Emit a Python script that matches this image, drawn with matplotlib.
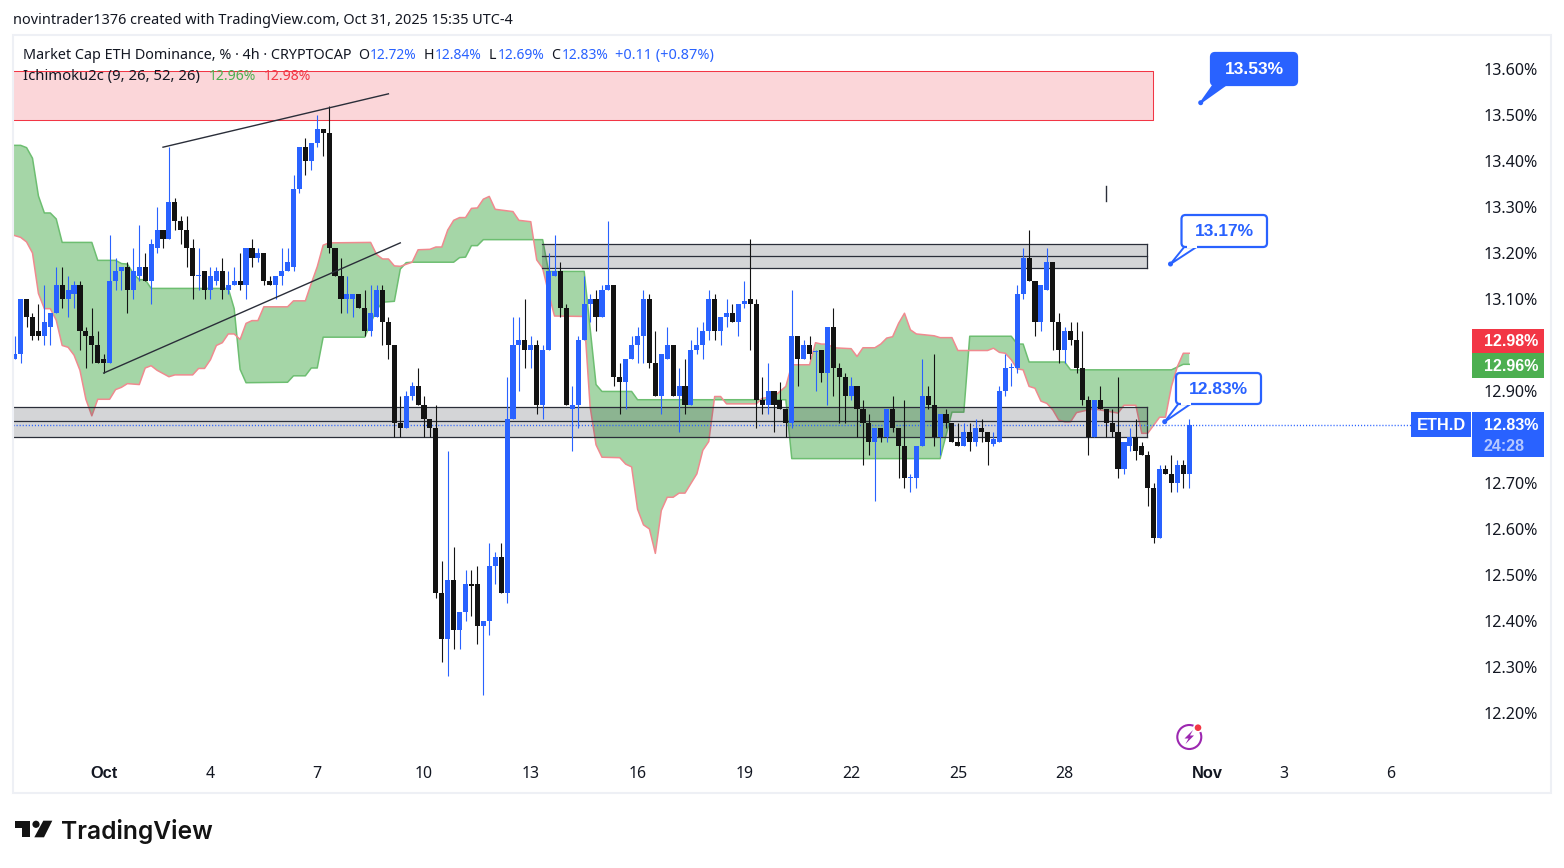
# -*- coding: utf-8 -*-
"""
ETH.D 4h chart with ichimoku cloud, zones and callouts
"""

import numpy as np
import matplotlib
matplotlib.use('Agg')
import matplotlib.pyplot as plt
from matplotlib.patches import Rectangle, FancyBboxPatch, Polygon, Circle

plt.rcParams['font.family'] = ['Noto Sans', 'DejaVu Sans']

# candles, 4h, index 15 = Oct 1
opens = [12.97, 12.98, 13.10, 13.06, 13.03, 13.02, 13.04, 13.07, 13.13, 13.10,
         13.11, 13.13, 13.03, 13.02, 13.00, 12.97, 12.96, 13.14, 13.16, 13.17,
         13.12, 13.15, 13.17, 13.14, 13.21, 13.25, 13.23, 13.31, 13.27, 13.25,
         13.21, 13.15, 13.16, 13.12, 13.14, 13.16, 13.12, 13.13, 13.14, 13.13,
         13.21, 13.19, 13.20, 13.14, 13.13, 13.15, 13.16, 13.17, 13.34, 13.43,
         13.40, 13.44, 13.47, 13.46, 13.21, 13.15, 13.10, 13.10, 13.11, 13.08,
         13.03, 13.06, 13.12, 13.05, 13.00, 12.83, 12.82, 12.89, 12.91, 12.87,
         12.84, 12.82, 12.46, 12.36, 12.49, 12.38, 12.42, 12.48, 12.48, 12.39,
         12.40, 12.52, 12.54, 12.46, 12.84, 13.00, 13.01, 12.99, 13.00, 12.87,
         12.99, 13.15, 13.16, 13.08, 12.86, 12.87, 13.01, 13.09, 13.10, 13.06,
         13.12, 13.13, 12.93, 12.92, 12.97, 13.00, 13.02, 13.10, 12.96, 12.89,
         12.97, 13.00, 12.89, 12.91, 12.87, 12.99, 13.00, 13.03, 13.10, 13.03,
         13.06, 13.07, 13.05, 13.09, 13.10, 13.09, 12.88, 12.87, 12.90, 12.88,
         12.86, 12.83, 13.02, 12.97, 13.00, 12.985, 12.99, 12.94, 13.04, 12.95,
         12.93, 12.89, 12.91, 12.86, 12.83, 12.79, 12.82, 12.80, 12.86, 12.82,
         12.78, 12.71, 12.71, 12.78, 12.89, 12.87, 12.80, 12.85, 12.83, 12.79,
         12.78, 12.81, 12.79, 12.82, 12.81, 12.785, 12.79, 12.90, 12.95, 12.95,
         13.11, 13.19, 13.14, 13.05, 13.12, 13.18, 13.05, 12.99, 13.03, 13.01,
         12.95, 12.88, 12.80, 12.88, 12.86, 12.83, 12.81, 12.73, 12.78, 12.80,
         12.78, 12.76, 12.69, 12.58, 12.73, 12.72, 12.70, 12.74, 12.72]
closes = [12.98, 13.10, 13.06, 13.02, 13.02, 13.05, 13.07, 13.13, 13.10, 13.12,
          13.13, 13.03, 13.02, 13.00, 12.96, 12.96, 13.14, 13.16, 13.17, 13.12,
          13.16, 13.17, 13.14, 13.22, 13.25, 13.23, 13.31, 13.27, 13.25, 13.21,
          13.15, 13.15, 13.12, 13.15, 13.16, 13.12, 13.13, 13.14, 13.13, 13.21,
          13.19, 13.20, 13.14, 13.13, 13.15, 13.16, 13.18, 13.34, 13.43, 13.40,
          13.44, 13.47, 13.46, 13.21, 13.15, 13.10, 13.11, 13.11, 13.08, 13.03,
          13.07, 13.12, 13.05, 13.00, 12.83, 12.82, 12.89, 12.91, 12.87, 12.84,
          12.82, 12.46, 12.36, 12.49, 12.38, 12.42, 12.48, 12.475, 12.39, 12.40,
          12.52, 12.54, 12.46, 12.84, 13.00, 13.01, 12.99, 13.00, 12.87, 12.99,
          13.16, 13.16, 13.08, 12.87, 12.87, 13.01, 13.09, 13.10, 13.06, 13.12,
          13.13, 12.93, 12.92, 12.97, 13.00, 13.02, 13.10, 12.96, 12.89, 12.98,
          13.00, 12.89, 12.91, 12.87, 12.99, 13.00, 13.03, 13.10, 13.03, 13.06,
          13.07, 13.05, 13.09, 13.095, 13.09, 12.88, 12.87, 12.90, 12.87, 12.86,
          12.83, 13.02, 12.97, 13.00, 12.98, 12.985, 12.94, 13.04, 12.95, 12.93,
          12.89, 12.91, 12.86, 12.83, 12.79, 12.82, 12.80, 12.86, 12.82, 12.78,
          12.71, 12.71, 12.78, 12.89, 12.87, 12.80, 12.85, 12.83, 12.79, 12.78,
          12.81, 12.79, 12.82, 12.81, 12.79, 12.795, 12.90, 12.95, 12.95, 13.11,
          13.19, 13.14, 13.05, 13.13, 13.18, 13.05, 12.99, 13.03, 13.01, 12.95,
          12.88, 12.80, 12.88, 12.86, 12.83, 12.81, 12.73, 12.79, 12.80, 12.77,
          12.76, 12.69, 12.58, 12.73, 12.72, 12.70, 12.74, 12.72, 12.827]
highs = [13.02, 13.10, 13.10, 13.07, 13.09, 13.13, 13.07, 13.17, 13.17, 13.15,
         13.14, 13.14, 13.04, 13.08, 13.03, 12.98, 13.24, 13.19, 13.17, 13.18,
         13.21, 13.26, 13.20, 13.23, 13.30, 13.25, 13.43, 13.32, 13.28, 13.28,
         13.23, 13.21, 13.16, 13.17, 13.17, 13.19, 13.16, 13.17, 13.20, 13.21,
         13.23, 13.21, 13.20, 13.15, 13.15, 13.21, 13.21, 13.37, 13.43, 13.45,
         13.44, 13.50, 13.47, 13.52, 13.21, 13.19, 13.15, 13.11, 13.11, 13.12,
         13.13, 13.13, 13.13, 13.06, 13.00, 12.89, 12.90, 12.92, 12.95, 12.89,
         12.84, 12.87, 12.53, 12.77, 12.56, 12.42, 12.51, 12.51, 12.52, 12.40,
         12.57, 12.55, 12.57, 12.93, 13.06, 13.06, 13.10, 13.02, 13.01, 13.00,
         13.20, 13.24, 13.18, 13.09, 12.91, 13.02, 13.15, 13.11, 13.12, 13.13,
         13.27, 13.13, 12.96, 12.97, 13.02, 13.04, 13.12, 13.11, 13.03, 12.98,
         13.04, 13.00, 12.95, 12.97, 13.01, 13.04, 13.05, 13.12, 13.11, 13.06,
         13.10, 13.09, 13.09, 13.14, 13.23, 13.10, 12.93, 12.96, 12.90, 12.92,
         12.86, 13.12, 13.02, 13.01, 13.02, 12.99, 12.99, 13.04, 13.08, 12.96,
         12.94, 12.93, 12.91, 12.88, 12.85, 12.82, 12.82, 12.86, 12.89, 12.82,
         12.88, 12.72, 12.78, 12.97, 12.91, 12.98, 12.85, 12.86, 12.83, 12.83,
         12.83, 12.83, 12.84, 12.84, 12.81, 12.81, 12.91, 12.98, 12.96, 13.13,
         13.21, 13.25, 13.14, 13.13, 13.21, 13.18, 13.07, 13.04, 13.05, 13.05,
         13.03, 12.89, 12.88, 12.91, 12.86, 12.86, 12.93, 12.79, 12.82, 12.84,
         12.79, 12.77, 12.70, 12.74, 12.74, 12.76, 12.75, 12.75, 12.84]
lows = [12.97, 12.96, 13.04, 13.01, 13.01, 13.00, 13.00, 13.07, 13.08, 13.06,
        13.08, 12.99, 12.95, 12.96, 12.96, 12.94, 12.96, 13.12, 13.12, 13.07,
        13.10, 13.14, 13.14, 13.09, 13.20, 13.21, 13.23, 13.25, 13.22, 13.17,
        13.10, 13.12, 13.10, 13.10, 13.13, 13.10, 13.11, 13.13, 13.12, 13.10,
        13.17, 13.18, 13.13, 13.13, 13.10, 13.13, 13.16, 13.16, 13.33, 13.37,
        13.38, 13.43, 13.41, 13.20, 13.15, 13.07, 13.07, 13.06, 13.08, 13.02,
        13.02, 13.06, 13.00, 12.97, 12.80, 12.80, 12.82, 12.88, 12.87, 12.80,
        12.80, 12.45, 12.31, 12.28, 12.34, 12.34, 12.40, 12.41, 12.35, 12.24,
        12.37, 12.48, 12.46, 12.44, 12.84, 12.90, 12.95, 12.95, 12.85, 12.84,
        12.99, 13.15, 13.06, 12.87, 12.77, 12.82, 13.01, 13.05, 13.03, 13.06,
        13.12, 12.91, 12.85, 12.86, 12.97, 12.96, 12.96, 12.95, 12.89, 12.85,
        12.97, 12.89, 12.81, 12.85, 12.87, 12.98, 12.97, 13.01, 13.01, 13.00,
        13.04, 13.05, 13.02, 13.08, 12.99, 12.82, 12.85, 12.85, 12.81, 12.86,
        12.80, 12.82, 12.91, 12.97, 12.97, 12.90, 12.92, 12.87, 12.89, 12.83,
        12.83, 12.88, 12.80, 12.74, 12.76, 12.66, 12.79, 12.79, 12.81, 12.71,
        12.69, 12.68, 12.69, 12.78, 12.86, 12.78, 12.76, 12.82, 12.79, 12.78,
        12.78, 12.77, 12.78, 12.79, 12.74, 12.78, 12.79, 12.89, 12.91, 12.94,
        13.10, 13.14, 13.02, 13.03, 13.12, 12.99, 12.96, 12.96, 13.00, 12.94,
        12.87, 12.76, 12.80, 12.86, 12.80, 12.80, 12.71, 12.72, 12.77, 12.75,
        12.76, 12.65, 12.57, 12.58, 12.72, 12.68, 12.68, 12.69, 12.69]

# ichimoku lines, only the corners
red_idx = [-0.29, 1, 2, 3, 4, 5, 6, 7, 8, 9, 10, 11, 12, 13, 14, 16, 17, 18, 19, 21,
           22, 23, 24, 26, 27, 30, 31, 32, 33, 34, 35, 36, 37, 38, 39, 40, 41, 42, 46, 47,
           49, 50, 51, 52, 53, 60, 61, 62, 63, 64, 65, 67, 68, 70, 71, 72, 73, 74, 75, 76,
           77, 78, 79, 80, 81, 84, 85, 87, 88, 89, 90, 91, 96, 97, 98, 99, 102, 103, 104, 105,
           106, 107, 108, 109, 110, 111, 112, 113, 114, 115, 116, 117, 118, 119, 120, 125, 126, 128, 129, 130,
           131, 134, 135, 136, 137, 138, 141, 142, 143, 145, 146, 147, 148, 149, 150, 151, 152, 155, 156, 158,
           159, 164, 165, 166, 167, 168, 169, 170, 171, 172, 173, 174, 175, 176, 177, 178, 179, 181, 182, 186,
           187, 189, 190, 191, 193, 194, 195, 196, 197, 198]
red_vals = [13.239, 13.234, 13.224, 13.2, 13.112, 13.079, 13.079, 13.054, 12.999, 12.995,
            12.978, 12.945, 12.882, 12.846, 12.882, 12.882, 12.903, 12.908, 12.916, 12.914,
            12.95, 12.955, 12.945, 12.931, 12.935, 12.935, 12.949, 12.949, 12.968, 12.999,
            13.005, 13.024, 13.024, 13.012, 13.047, 13.053, 13.053, 13.083, 13.083, 13.096,
            13.096, 13.134, 13.17, 13.217, 13.222, 13.223, 13.197, 13.187, 13.187, 13.172,
            13.171, 13.18, 13.207, 13.208, 13.213, 13.213, 13.25, 13.271, 13.277, 13.277,
            13.297, 13.298, 13.317, 13.323, 13.295, 13.29, 13.271, 13.268, 13.185, 13.167,
            13.113, 13.063, 13.062, 12.866, 12.783, 12.756, 12.755, 12.741, 12.735, 12.643,
            12.609, 12.6, 12.547, 12.64, 12.669, 12.669, 12.678, 12.678, 12.699, 12.72,
            12.771, 12.79, 12.888, 12.888, 12.872, 12.872, 12.884, 12.888, 12.899, 12.91,
            12.957, 12.957, 13.005, 13.002, 13.002, 12.994, 12.992, 12.975, 12.994, 12.994,
            13.002, 13.015, 13.018, 13.047, 13.069, 13.033, 13.024, 13.02, 13.016, 13.016,
            12.988, 12.988, 12.993, 12.984, 12.982, 12.968, 12.948, 12.946, 12.91, 12.906,
            12.878, 12.873, 12.859, 12.837, 12.833, 12.833, 12.853, 12.859, 12.861, 12.852,
            12.869, 12.869, 12.808, 12.808, 12.843, 12.843, 12.91, 12.953, 12.982, 12.982]
green_idx = [-0.29, 1, 2, 3, 4, 5, 6, 7, 8, 13, 14, 17, 18, 19, 20, 21, 22, 23, 36, 37,
             38, 39, 46, 47, 49, 50, 51, 52, 59, 60, 61, 62, 64, 65, 66, 67, 74, 75, 76, 77,
             78, 79, 89, 90, 96, 98, 99, 104, 105, 130, 131, 156, 158, 160, 161, 168, 169, 170, 171, 177,
             178, 195, 197, 198]
green_vals = [13.434, 13.434, 13.429, 13.406, 13.324, 13.287, 13.287, 13.274, 13.223, 13.223,
              13.184, 13.184, 13.177, 13.176, 13.155, 13.142, 13.142, 13.123, 13.123, 13.079,
              12.947, 12.918, 12.919, 12.933, 12.933, 12.95, 12.95, 13.017, 13.017, 13.047,
              13.076, 13.093, 13.095, 13.165, 13.179, 13.18, 13.18, 13.19, 13.191, 13.216,
              13.216, 13.229, 13.229, 13.16, 13.16, 12.914, 12.899, 12.899, 12.881, 12.881,
              12.753, 12.753, 12.854, 12.854, 13.019, 13.019, 13.002, 13.002, 12.963, 12.963,
              12.946, 12.946, 12.958, 12.958]

# zones: first idx, last idx, top, (mid), bottom
supply_zone = [-0.29, 191.9, 13.596, 13.49]
upper_zone = [88.9, 190.9, 13.219, 13.193, 13.167]
lower_zone = [-0.29, 190.9, 12.865, 12.835, 12.801]

# trend lines and the small stray stroke: idx pairs, price pairs
trend_idx = [[25, 63], [15, 65], [184, 184]]
trend_vals = [[13.43, 13.546], [12.939, 13.222], [13.346, 13.313]]

price_ticks = [12.2, 12.3, 12.4, 12.5, 12.6, 12.7, 12.9, 13.1, 13.2, 13.3, 13.4, 13.5, 13.6]
time_ticks = [15, 33, 51, 69, 87, 105, 123, 141, 159, 177, 201, 214, 232]
time_labels = ['Oct', '4', '7', '10', '13', '16', '19', '22', '25', '28', 'Nov', '3', '6']

BLUE = '#2962FF'
BLACK = '#131313'
INK = '#131722'
GREY = '#2A2E39'
BOLD = ['Liberation Sans', 'DejaVu Sans']
W, H = 1564, 868
L, R, T, B = 13, 1472, 35, 760

fig = plt.figure(figsize=(W / 100, H / 100), dpi=100, facecolor='white')
ax = fig.add_axes([L / W, (H - B) / H, (R - L) / W, (B - T) / H])
ax.set_xlim(-0.287, 245.67)
ax.set_ylim(12.0978, 13.6739)
for s in ax.spines.values():
    s.set_visible(False)

ax.yaxis.tick_right()
ax.set_yticks(price_ticks)
ax.set_yticklabels(['%.2f%%' % p for p in price_ticks])
ax.set_xticks(time_ticks)
ax.set_xticklabels(time_labels)
ax.tick_params(axis='y', length=0, pad=8, labelsize=11.6, labelcolor=INK)
ax.tick_params(axis='x', length=0, pad=4.5, labelsize=11.4, labelcolor=INK)
for lab in ax.get_xticklabels():
    if lab.get_text() in ('Oct', 'Nov'):
        lab.set_fontweight('bold')
        lab.set_family(BOLD)
        lab.set_fontsize(11.8)

# cloud
ax.fill(np.r_[green_idx, red_idx[::-1]], np.r_[green_vals, red_vals[::-1]],
        color='#4CAF50', alpha=0.5, lw=0, zorder=1)
ax.plot(green_idx, green_vals, color='#6DBE71', lw=1.1, zorder=2)
ax.plot(red_idx, red_vals, color='#F08A8F', lw=1.1, zorder=2)

# zones
ax.add_patch(Rectangle((supply_zone[0], supply_zone[3]), supply_zone[1] - supply_zone[0],
                       supply_zone[2] - supply_zone[3], fc='#EE4655', alpha=0.22, lw=0, zorder=3))
ax.plot([supply_zone[0], supply_zone[1], supply_zone[1], supply_zone[0]],
        [supply_zone[2], supply_zone[2], supply_zone[3], supply_zone[3]],
        color='#F23645', lw=0.75, zorder=3)
for z in (upper_zone, lower_zone):
    ax.add_patch(Rectangle((z[0], z[4]), z[1] - z[0], z[2] - z[4],
                           fc=GREY, alpha=0.2, lw=0, zorder=3))
    for v in z[2:]:
        ax.plot([z[0], z[1]], [v, v], color=GREY, lw=0.9, zorder=3)
    ax.plot([z[1], z[1]], [z[2], z[4]], color=GREY, lw=0.9, zorder=3)

# last price line, runs up to the ETH.D tag
ax.plot([-0.287, 235.4], [closes[-1], closes[-1]], color=BLUE, lw=1.0, ls=(0, (0.8, 1.4)),
        dash_capstyle='butt', zorder=4)

# candles
idx = np.arange(len(closes))
o, c, h, l = map(np.array, (opens, closes, highs, lows))
cols = np.where(c >= o, BLUE, BLACK)
wicks = ax.vlines(idx, l, h, colors=cols, lw=0.8, zorder=5)
wicks.set_snap(True)
ax.bar(idx, np.maximum(np.abs(c - o), 0.003), bottom=np.minimum(o, c), width=0.86,
       color=cols, lw=0, zorder=6)

for xs, ys in zip(trend_idx, trend_vals):
    ax.plot(xs, ys, color=GREY, lw=1.0, zorder=7)

# everything below is chrome, drawn in pixel coordinates on a second axes
ov = fig.add_axes([0, 0, 1, 1], zorder=5)
ov.set_xlim(0, W)
ov.set_ylim(H, 0)
ov.axis('off')
ov.patch.set_alpha(0)

ov.add_patch(Rectangle((13, 35), 1538, 758, fill=False, ec='#EEF0F5', lw=1.5))


def txt(x, y, s, color=INK, size=10.4, ha='left', weight='normal', **kw):
    ov.text(x, y + 1.2, s, color=color, fontsize=size, ha=ha, va='center', fontweight=weight, **kw)


def tag(x0, y0, x1, y1, color):
    ov.add_patch(Rectangle((x0, y0), x1 - x0, y1 - y0, fc=color, lw=0))


txt(13, 19.5, 'novintrader1376 created with TradingView.com, Oct 31, 2025 15:35 UTC-4', size=10.4)

txt(23, 54, 'Market Cap ETH Dominance, % · 4h · CRYPTOCAP', size=10.35)
for x, s, col, sz in [(358, 'O', INK, 10.2), (370, '12.72%', BLUE, 10), (424, 'H', INK, 10.2),
                      (435, '12.84%', BLUE, 10), (489, 'L', INK, 10.2), (498, '12.69%', BLUE, 10),
                      (551, 'C', INK, 10.2), (562, '12.83%', BLUE, 10), (615, '+0.11 (+0.87%)', BLUE, 10.45)]:
    txt(x, 54, s, color=col, size=sz)
txt(23, 75, 'Ichimoku2c (9, 26, 52, 26)', size=10.7)
txt(209, 75, '12.96%', color='#4CAF50', size=10.1)
txt(264, 75, '12.98%', color='#F23645', size=10.1)

# price scale tags
tag(1472, 329, 1544, 353, '#F23645')
tag(1472, 353, 1544, 378, '#4CAF50')
tag(1472, 412, 1544, 457, BLUE)
tag(1411, 412, 1471, 437, BLUE)
txt(1484, 340.5, '12.98%', color='white', size=11.5, weight='bold', family=BOLD)
txt(1484, 365.5, '12.96%', color='white', size=11.5, weight='bold', family=BOLD)
txt(1484, 424, '12.83%', color='white', size=11.5, weight='bold', family=BOLD)
txt(1484, 445, '24:28', color='#B4C8FF', size=11.5, weight='bold', family=BOLD)
txt(1441, 424, 'ETH.D', color='white', size=11.8, ha='center', weight='bold', family=BOLD)

# callouts
callouts = [(1211, 53, 1297, 85, 1214, 1227, 1200.7, 102.7, '13.53%', True),
            (1181.5, 215, 1267, 247, 1185, 1198, 1170.5, 264, '13.17%', False),
            (1176, 373, 1261, 404, 1179, 1192, 1164.7, 421.7, '12.83%', False)]
for x0, y0, x1, y1, b0, b1, tx, ty, s, solid in callouts:
    ov.add_patch(Polygon([(b0, y1 - 1), (b1, y1 - 1), (tx, ty)], fc=BLUE if solid else 'white',
                         ec=BLUE, lw=1.4, joinstyle='round'))
    ov.add_patch(FancyBboxPatch((x0 + 3, y0 + 3), x1 - x0 - 6, y1 - y0 - 6,
                                boxstyle='round,pad=3,rounding_size=4',
                                fc=BLUE if solid else 'white', ec=BLUE, lw=1.6))
    if not solid:
        ov.add_patch(Rectangle((b0 + 1.5, y1 - 2), b1 - b0 - 3, 3, fc='white', lw=0))
    ov.add_patch(Circle((tx, ty), 2.5, fc=BLUE, lw=0))
    txt((x0 + x1) / 2, (y0 + y1) / 2 - 0.5, s, color='white' if solid else BLUE, size=12.5, ha='center',
        weight='bold', family=BOLD)

# lightning badge
ov.add_patch(Circle((1189.3, 737), 12, fill=False, ec='#9C27B0', lw=1.5))
ov.add_patch(Polygon([(1193, 730), (1184.5, 738.5), (1188.5, 738.5), (1185.5, 744),
                      (1194, 735.5), (1190, 735.5)], fc='#9C27B0', lw=0))
ov.add_patch(Circle((1198, 727.7), 5, fc='white', lw=0))
ov.add_patch(Circle((1198, 727.7), 3.3, fc='#F23645', lw=0))

# logo
ov.add_patch(Polygon([(15.3, 820.7), (30, 820.7), (30, 837.3), (22.3, 837.3), (22.3, 827.7), (15.3, 827.7)],
                     fc=BLACK, lw=0))
ov.add_patch(Circle((36, 824.3), 3.6, fc=BLACK, lw=0))
ov.add_patch(Polygon([(43.3, 820.7), (52.3, 820.7), (44, 837.3), (34.3, 837.3)], fc=BLACK, lw=0))
txt(61.5, 830, 'TradingView', color=BLACK, size=17.7, weight='semibold', family=['Inter', 'DejaVu Sans'])

fig.savefig('out.png', dpi=100, facecolor='white')
